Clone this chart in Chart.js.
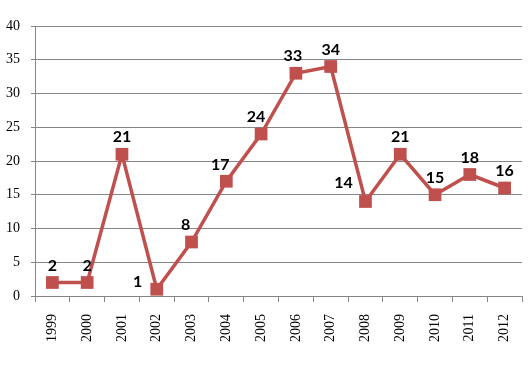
<!DOCTYPE html>
<html>
<head>
<meta charset="utf-8">
<script src="https://cdn.jsdelivr.net/npm/chart.js@4/dist/chart.umd.min.js"></script>
<style>
  html, body { margin: 0; padding: 0; background: #fff; }
  #wrap { width: 530px; height: 365px; }
</style>
</head>
<body>
<div id="wrap"><canvas id="c"></canvas></div>
<script>
var years = ['1999', '2000', '2001', '2002', '2003', '2004', '2005', '2006', '2007', '2008', '2009', '2010', '2011', '2012'];
var counts = [2, 2, 21, 1, 8, 17, 24, 33, 34, 14, 21, 15, 18, 16];
var yTicks = [0, 5, 10, 15, 20, 25, 30, 35, 40];

// label nudges (px), relative to the point
var labelDx = [0, 0, 0, -19, -6, -6, -5, -3, 0, -22, 0, 0, 0, 0];
var labelDy = [-17, -17, -17, -7, -17, -16, -17, -17, -17, -19, -17, -17, -17, -17];

var red = '#C0504D';

var valueLabels = {
    id: 'valueLabels',
    afterDatasetsDraw: function (chart) {
        var ctx = chart.ctx,
        meta = chart.getDatasetMeta(0);
        ctx.save();
        ctx.font = 'bold 16px Lato, "Open Sans", sans-serif';
        ctx.fillStyle = '#000';
        ctx.textAlign = 'center';
        ctx.textBaseline = 'middle';
        meta.data.forEach(function (pt, i) {
            ctx.fillText(String(counts[i]), pt.x + labelDx[i], pt.y + labelDy[i]);
        });
        ctx.restore();
    }
};

new Chart(document.getElementById('c').getContext('2d'), {
    type: 'line',
    data: {
        labels: years,
        datasets: [{
            data: counts,
            borderColor: red,
            backgroundColor: red,
            borderWidth: 3.5,
            pointStyle: 'rect',
            pointRadius: 9,
            pointBorderWidth: 0,
            pointBackgroundColor: red,
            tension: 0
        }]
    },
    options: {
        responsive: true,
        maintainAspectRatio: false,
        animation: false,
        layout: { autoPadding: false, padding: { top: 26, right: 8, bottom: 0, left: 0 } },
        plugins: {
            legend: { display: false },
            tooltip: { enabled: false }
        },
        scales: {
            x: {
                offset: true,
                afterFit: function (s) {
                    s.height = 69;
                    s.paddingLeft = 0;
                    s.paddingRight = 0;
                },
                grid: {
                    offset: true,
                    drawOnChartArea: false,
                    color: '#868686',
                    tickLength: 6
                },
                border: { color: '#868686', width: 1 },
                ticks: {
                    minRotation: 90,
                    maxRotation: 90,
                    padding: 12,
                    color: '#000',
                    font: { family: '"Liberation Serif", "Times New Roman", serif', size: 14 }
                }
            },
            y: {
                min: 0,
                max: 40,
                afterFit: function (s) {
                    s.width = 35;
                    s.paddingTop = 0;
                    s.paddingBottom = 0;
                },
                afterBuildTicks: function (s) {
                    s.ticks = yTicks.map(function (v) { return { value: v }; });
                },
                grid: {
                    color: '#868686',
                    tickLength: 4
                },
                border: { color: '#868686', width: 1 },
                ticks: {
                    padding: 11,
                    color: '#000',
                    font: { family: '"Liberation Serif", "Times New Roman", serif', size: 14 }
                }
            }
        }
    },
    plugins: [valueLabels]
});
</script>
</body>
</html>
